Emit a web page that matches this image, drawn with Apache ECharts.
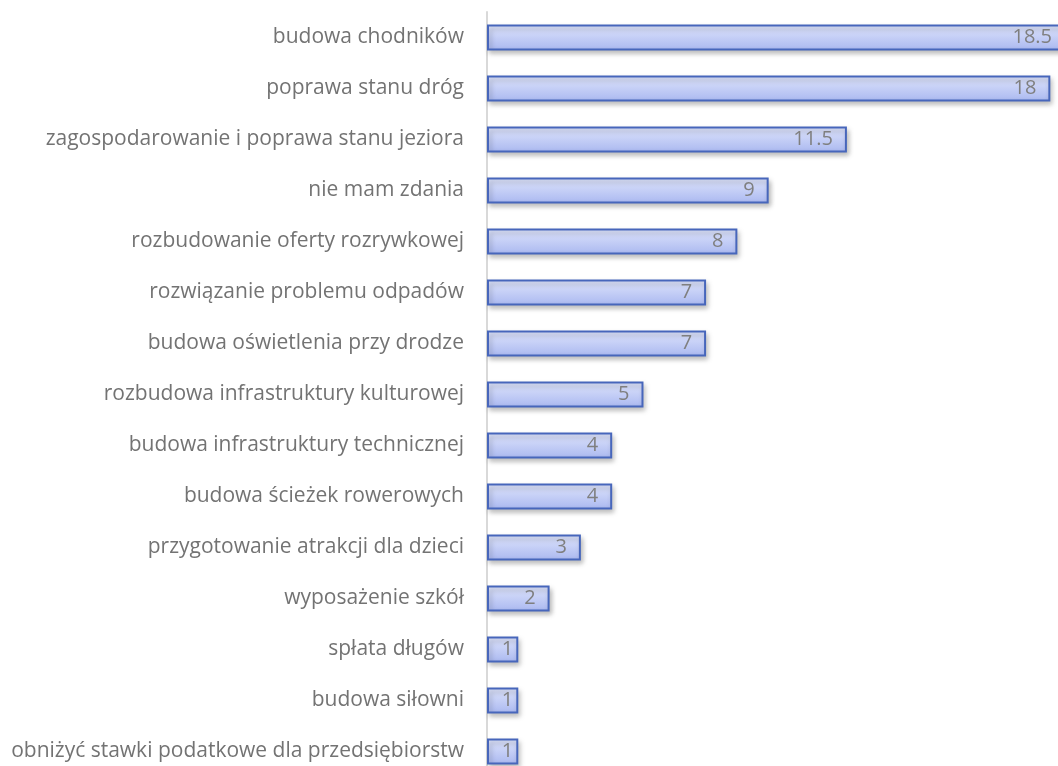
<!DOCTYPE html>
<html><head><meta charset="utf-8">
<script src="https://cdn.jsdelivr.net/npm/echarts@6/dist/echarts.min.js"></script>
<style>html,body{margin:0;padding:0;background:#fff}#c{width:1058px;height:766px}</style>
</head><body><div id="c"></div>
<script>
const categories = [
  "budowa chodników",
  "poprawa stanu dróg",
  "zagospodarowanie i poprawa stanu jeziora",
  "nie mam zdania",
  "rozbudowanie oferty rozrywkowej",
  "rozwiązanie problemu odpadów",
  "budowa oświetlenia przy drodze",
  "rozbudowa infrastruktury kulturowej",
  "budowa infrastruktury technicznej",
  "budowa ścieżek rowerowych",
  "przygotowanie atrakcji dla dzieci",
  "wyposażenie szkół",
  "spłata długów",
  "budowa siłowni",
  "obniżyć stawki podatkowe dla przedsiębiorstw"
];
const values = [18.5, 18, 11.5, 9, 8, 7, 7, 5, 4, 4, 3, 2, 1, 1, 1];

const chart = echarts.init(document.getElementById('c'));
chart.setOption({
  animation: false,
  grid: { left: 487, top: 12, width: 579, height: 765, containLabel: false, outerBoundsMode: 'none' },
  xAxis: { type: 'value', min: 0, max: 18.5, show: false },
  yAxis: {
    type: 'category', data: categories, inverse: true,
    axisLine: { show: true, lineStyle: { color: '#d9d9d9', width: 2 } },
    axisTick: { show: false },
    axisLabel: { color: '#737373', fontSize: 21, fontFamily: 'Open Sans', margin: 23 }
  },
  series: [{
    type: 'bar',
    data: values.map(v => v <= 1 ? { value: v, label: { distance: 5 } } : v),
    barWidth: 26,
    itemStyle: {
      color: new echarts.graphic.LinearGradient(0, 0, 0, 1, [
        { offset: 0, color: '#dfe5fc' },
        { offset: 1, color: '#aab8f0' }
      ]),
      borderColor: '#4766bb', borderWidth: 2,
      shadowColor: 'rgba(0,0,0,0.25)', shadowBlur: 5, shadowOffsetX: 2, shadowOffsetY: 3
    },
    label: {
      show: true, position: 'insideRight', color: '#7f7f7f', fontSize: 20,
      fontFamily: 'Open Sans', distance: 14
    }
  }]
});
</script></body></html>
